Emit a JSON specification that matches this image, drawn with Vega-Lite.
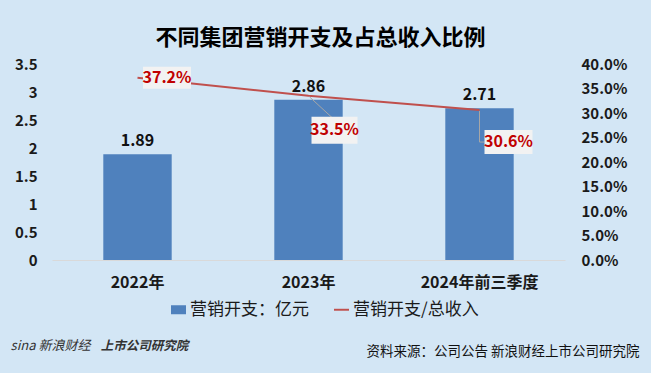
{
  "$schema": "https://vega.github.io/schema/vega-lite/v6.json",
  "width": 513,
  "height": 196,
  "autosize": {"type": "none"},
  "padding": {"left": 52, "top": 64, "right": 86, "bottom": 113},
  "background": "#D3E6F5",
  "config": {
    "view": {"stroke": null},
    "font": "Noto Sans CJK SC",
    "axis": {"grid": false, "ticks": false}
  },
  "title": {
    "text": "不同集团营销开支及占总收入比例",
    "fontSize": 22,
    "fontWeight": "bold",
    "color": "#000000",
    "anchor": "middle",
    "frame": "group",
    "dx": 12,
    "offset": 7
  },
  "data": {
    "values": [
      {"period": "2022年", "spend": 1.89, "ratio": 0.372},
      {"period": "2023年", "spend": 2.86, "ratio": 0.335},
      {"period": "2024年前三季度", "spend": 2.71, "ratio": 0.306}
    ]
  },
  "encoding": {
    "x": {
      "field": "period",
      "type": "nominal",
      "sort": null,
      "scale": {"paddingInner": 0.6, "paddingOuter": 0.3},
      "axis": {
        "labelAngle": 0,
        "labelFontSize": 16,
        "labelFontWeight": "bold",
        "labelColor": "#1a1a1a",
        "labelPadding": 14,
        "domainColor": "#D9D9D9",
        "domainWidth": 1,
        "title": "资料来源：公司公告 新浪财经上市公司研究院",
        "titleFontSize": 13.5,
        "titleFontWeight": "normal",
        "titleColor": "#111111",
        "titleX": 587,
        "titleY": 91,
        "titleAlign": "right",
        "titleBaseline": "middle"
      }
    }
  },
  "layer": [
    {
      "encoding": {
        "y": {
          "field": "spend",
          "type": "quantitative",
          "scale": {"domain": [0, 3.5], "nice": false},
          "axis": {
            "labelFontSize": 15,
            "labelFontWeight": "bold",
            "labelColor": "#1a1a1a",
            "labelPadding": 15,
            "domain": false,
            "values": [0, 0.5, 1, 1.5, 2, 2.5, 3, 3.5],
            "format": "~g",
            "title": "sina 新浪财经",
            "titleAngle": 0,
            "titleX": -2,
            "titleY": 281,
            "titleAlign": "center",
            "titleBaseline": "middle",
            "titleFontSize": 13,
            "titleFontStyle": "italic",
            "titleFontWeight": "normal",
            "titleColor": "#333333"
          }
        }
      },
      "layer": [
        {
          "mark": {"type": "bar"},
          "encoding": {
            "color": {
              "datum": "营销开支：亿元",
              "type": "nominal",
              "scale": {
                "domain": ["营销开支：亿元", "营销开支/总收入"],
                "range": ["#4F81BD", "#C0504D"]
              },
              "legend": {
                "orient": "none",
                "legendX": 118,
                "legendY": 237,
                "direction": "horizontal",
                "title": null,
                "labelFontSize": 17,
                "labelColor": "#1a1a1a",
                "symbolSize": 225,
                "symbolStrokeWidth": 0,
                "symbolOpacity": 1,
                "labelOffset": 3,
                "columnPadding": 24,
                "encode": {
                  "symbols": {
                    "update": {
                      "shape": {"signal": "datum.value === '营销开支：亿元' ? 'M-1,-0.6H1V0.6H-1Z' : 'M-1,-0.13H1V0.13H-1Z'"},
                      "fill": {"scale": "color", "field": "value"}
                    }
                  }
                }
              }
            }
          }
        },
        {
          "mark": {"type": "text", "dy": -13, "fontSize": 16, "fontWeight": "bold", "color": "#111111", "baseline": "middle"},
          "encoding": {"text": {"field": "spend", "type": "quantitative", "format": ".2f"}}
        }
      ]
    },
    {
      "encoding": {
        "y": {
          "field": "ratio",
          "type": "quantitative",
          "scale": {"domain": [0, 0.4], "nice": false},
          "axis": {
            "orient": "right",
            "labelFontSize": 15,
            "labelFontWeight": "bold",
            "labelColor": "#1a1a1a",
            "labelPadding": 16,
            "domain": false,
            "values": [0, 0.05, 0.1, 0.15, 0.2, 0.25, 0.3, 0.35, 0.4],
            "format": ".1%",
            "title": "上市公司研究院",
            "titleAngle": 0,
            "titleX": -421,
            "titleY": 281,
            "titleAlign": "center",
            "titleBaseline": "middle",
            "titleFontSize": 12.5,
            "titleFontStyle": "italic",
            "titleFontWeight": "bold",
            "titleColor": "#333333"
          }
        }
      },
      "layer": [
        {
          "mark": {"type": "line", "strokeWidth": 2},
          "encoding": {"color": {"datum": "营销开支/总收入", "type": "nominal"}}
        },
        {
          "transform": [{"filter": "datum.period === '2023年'"}],
          "mark": {"type": "point", "shape": "M0.02,0.02L0.52,0.48", "size": 10000, "filled": false, "stroke": "#A6A6A6", "strokeWidth": 1, "opacity": 1}
        },
        {
          "transform": [{"filter": "datum.period === '2024年前三季度'"}],
          "mark": {"type": "point", "shape": "M0,0.02V0.64H0.1", "size": 10000, "filled": false, "stroke": "#A6A6A6", "strokeWidth": 1, "opacity": 1}
        },
        {
          "transform": [{"filter": "datum.period === '2022年'"}],
          "mark": {"type": "point", "shape": "M0.11,-0.22H1.07V0.22H0.11Z", "size": 10000, "filled": true, "fill": "#F2F2F2", "strokeWidth": 0, "opacity": 1}
        },
        {
          "transform": [{"filter": "datum.period === '2023年'"}],
          "mark": {"type": "point", "shape": "M0.06,0.42H0.98V0.96H0.06Z", "size": 10000, "filled": true, "fill": "#F2F2F2", "strokeWidth": 0, "opacity": 1}
        },
        {
          "transform": [{"filter": "datum.period === '2024年前三季度'"}],
          "mark": {"type": "point", "shape": "M0.1,0.4H1.06V0.88H0.1Z", "size": 10000, "filled": true, "fill": "#F2F2F2", "strokeWidth": 0, "opacity": 1}
        },
        {
          "transform": [{"filter": "datum.period === '2022年'"}],
          "mark": {"type": "text", "dx": 29.5, "dy": 0, "fontSize": 16, "fontWeight": "bold", "color": "#C00000", "baseline": "middle"},
          "encoding": {"text": {"field": "ratio", "type": "quantitative", "format": ".1%"}}
        },
        {
          "transform": [{"filter": "datum.period === '2023年'"}],
          "mark": {"type": "text", "dx": 26, "dy": 34.5, "fontSize": 16, "fontWeight": "bold", "color": "#C00000", "baseline": "middle"},
          "encoding": {"text": {"field": "ratio", "type": "quantitative", "format": ".1%"}}
        },
        {
          "transform": [{"filter": "datum.period === '2024年前三季度'"}],
          "mark": {"type": "text", "dx": 29, "dy": 32, "fontSize": 16, "fontWeight": "bold", "color": "#C00000", "baseline": "middle"},
          "encoding": {"text": {"field": "ratio", "type": "quantitative", "format": ".1%"}}
        }
      ]
    }
  ],
  "resolve": {"scale": {"y": "independent"}}
}
